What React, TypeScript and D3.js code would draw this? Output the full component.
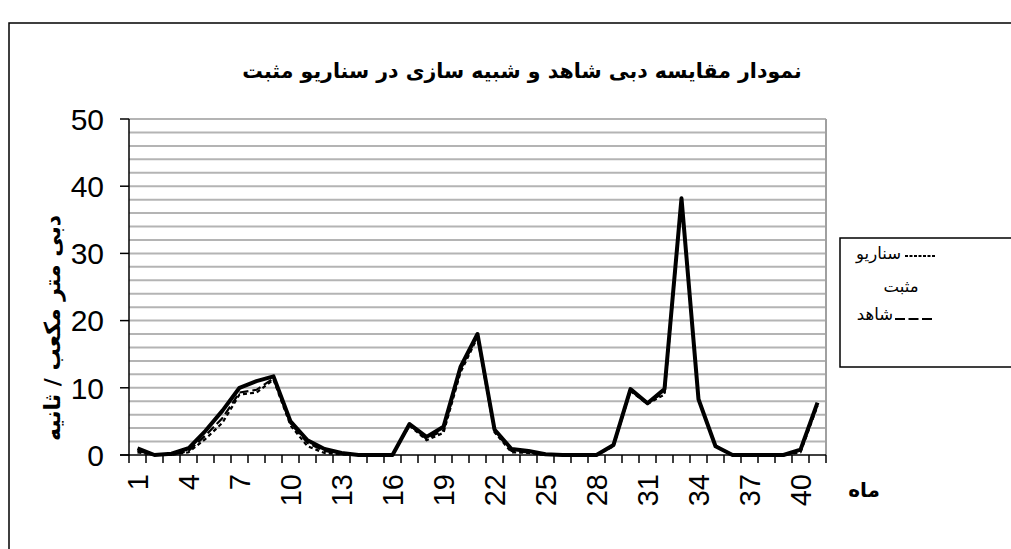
import React from "react";
import * as d3 from "d3";

const months = [1,2,3,4,5,6,7,8,9,10,11,12,13,14,15,16,17,18,19,20,21,22,23,24,25,26,27,28,29,30,31,32,33,34,35,36,37,38,39,40,41];
const xTickLabels = [1,4,7,10,13,16,19,22,25,28,31,34,37,40];
const yTicks = [0,10,20,30,40,50];
const gridValues = [2,4,6,8,10,12,14,16,18,20,22,24,26,28,30,32,34,36,38,40,42,44,46,48,50];

const simulated = [1.0,0,0.2,1.0,3.6,6.6,10,11.0,11.7,5.0,2.2,0.9,0.3,0,0,0,4.6,2.7,4.2,13.1,18,3.8,0.9,0.6,0.1,0,0,0,1.5,9.8,7.7,9.8,38.2,8.3,1.3,0,0,0,0,0.8,7.8];
const scenario = [0.4,0,0,0.4,2.4,4.8,9.0,9.3,11.2,4.4,1.3,0.3,0.1,0,0,0,4.4,2.2,3.3,12.3,17.5,3.4,0.4,0.3,0,0,0,0,1.3,9.5,7.6,9.0,38,8.3,1.3,0,0,0,0,0.4,7.3];
const observed = [0.6,0,0,0.6,2.9,5.5,9.3,9.7,11.4,4.7,1.8,0.6,0.2,0,0,0,4.5,2.4,3.7,12.7,17.8,3.6,0.6,0.4,0,0,0,0,1.4,9.7,7.8,9.3,38.1,8.4,1.4,0,0,0,0,0.6,7.6];

const title = "نمودار مقایسه دبی شاهد و شبیه سازی در سناریو مثبت";
const yTitle = "دبی متر مکعب / ثانیه";
const xTitle = "ماه";
const legendScenario1 = "سناریو";
const legendScenario2 = "مثبت";
const legendObserved = "شاهد";

export default function App() {
  const W = 1011, H = 549;
  const L = 129, R = 826, T = 119, B = 455;
  const x = d3.scaleBand<number>().domain(months).range([L, R]).padding(0);
  const y = d3.scaleLinear().domain([0, 50]).range([B, T]);
  const cx = (m: number) => (x(m) as number) + x.bandwidth() / 2;
  const line = d3.line<number>().x((_, i) => cx(months[i])).y((v) => y(v));
  const boundaries = months.map((m) => x(m) as number).concat([R]);
  const arial = "'Liberation Sans', Arial, sans-serif";
  const arabic = "'DejaVu Sans', sans-serif";

  return (
    <svg width={W} height={H} style={{ position: "absolute", left: 0, top: 0, background: "#fff" }}>
      <rect x={9} y={23} width={1100} height={600} fill="#fff" stroke="#000" strokeWidth={1.5} />
      <text x={522} y={78} textAnchor="middle" fontFamily={arabic} fontWeight="bold" fontSize={20.5}>{title}</text>

      {gridValues.map((g) => (
        <line key={g} x1={L} x2={R} y1={y(g)} y2={y(g)} stroke="#b4b4b4" strokeWidth={2} />
      ))}
      <line x1={R} x2={R} y1={T} y2={B} stroke="#a0a0a0" strokeWidth={2} />

      <path d={line(scenario) || ""} fill="none" stroke="#000" strokeWidth={2.2} strokeDasharray="4 3" />
      <path d={line(observed) || ""} fill="none" stroke="#000" strokeWidth={2.2} strokeDasharray="9 4" />
      <path d={line(simulated) || ""} fill="none" stroke="#000" strokeWidth={4} strokeLinejoin="round" />

      <line x1={L} x2={L} y1={T} y2={B} stroke="#000" strokeWidth={1.5} />
      <line x1={L - 9} x2={R} y1={B} y2={B} stroke="#000" strokeWidth={1.5} />
      {yTicks.map((t) => (
        <g key={t}>
          <line x1={L - 9} x2={L} y1={y(t)} y2={y(t)} stroke="#000" strokeWidth={1.5} />
          <text x={104} y={y(t)} dy="0.36em" textAnchor="end" fontFamily={arial} fontSize={30}>{t}</text>
        </g>
      ))}
      {boundaries.map((b, i) => (
        <line key={i} x1={b} x2={b} y1={B} y2={B + 8} stroke="#000" strokeWidth={1.5} />
      ))}
      {xTickLabels.map((m) => (
        <text key={m} transform={`translate(${cx(m)},474) rotate(-90)`} dy="0.36em" textAnchor="end" fontFamily={arial} fontSize={29}>{m}</text>
      ))}
      <text x={864} y={497} textAnchor="middle" fontFamily={arabic} fontWeight="bold" fontSize={20}>{xTitle}</text>
      <text transform={`translate(52,328) rotate(-90)`} dy="0.35em" textAnchor="middle" fontFamily={arabic} fontWeight="bold" fontSize={22}>{yTitle}</text>

      <rect x={840} y={238} width={300} height={129} fill="#fff" stroke="#000" strokeWidth={1.5} />
      <text x={901} y={253} dy="0.35em" textAnchor="end" fontFamily={arabic} fontSize={16.5}>{legendScenario1}</text>
      <line x1={905} x2={935} y1={256} y2={256} stroke="#000" strokeWidth={2} strokeDasharray="3 1.5" />
      <text x={901} y={286} dy="0.35em" textAnchor="middle" fontFamily={arabic} fontSize={16.5}>{legendScenario2}</text>
      <text x={893} y={314} dy="0.35em" textAnchor="end" fontFamily={arabic} fontSize={16.5}>{legendObserved}</text>
      <line x1={895} x2={935} y1={319} y2={319} stroke="#000" strokeWidth={2} strokeDasharray="10 3.5" />
    </svg>
  );
}
